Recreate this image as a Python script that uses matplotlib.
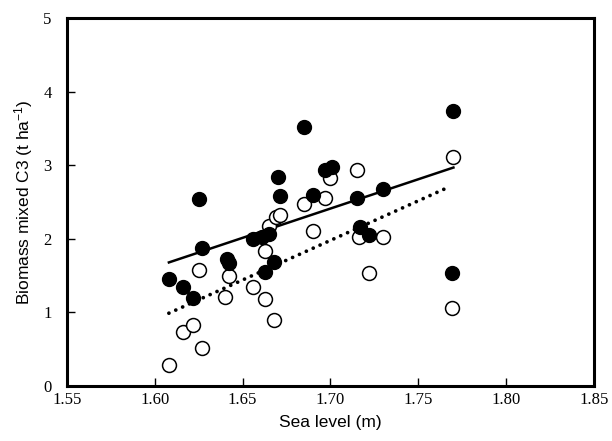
import numpy as np
import matplotlib
matplotlib.use("Agg")
from matplotlib import pyplot as plt

plt.rcParams['mathtext.fontset'] = 'custom'
plt.rcParams['mathtext.rm'] = 'Liberation Sans'
plt.rcParams['mathtext.it'] = 'Liberation Sans:italic'

# filled circles
sea_filled = [1.608, 1.616, 1.622, 1.625, 1.627, 1.641, 1.642, 1.656, 1.661,
              1.665, 1.663, 1.668, 1.670, 1.671, 1.685, 1.690, 1.697, 1.701,
              1.715, 1.717, 1.722, 1.730, 1.769, 1.770]
bio_filled = [1.46, 1.35, 1.20, 2.54, 1.87, 1.72, 1.67, 2.00, 2.03,
              2.07, 1.55, 1.68, 2.84, 2.58, 3.52, 2.60, 2.93, 2.98,
              2.55, 2.16, 2.05, 2.68, 1.54, 3.74]

# open circles
sea_open = [1.608, 1.616, 1.622, 1.627, 1.625, 1.640, 1.642, 1.656, 1.663,
            1.663, 1.665, 1.668, 1.669, 1.671, 1.685, 1.690, 1.697, 1.700,
            1.715, 1.716, 1.722, 1.730, 1.769, 1.770]
bio_open = [0.28, 0.74, 0.83, 0.52, 1.58, 1.21, 1.49, 1.34, 1.18,
            1.84, 2.17, 0.90, 2.30, 2.32, 2.48, 2.11, 2.56, 2.83,
            2.94, 2.02, 1.53, 2.02, 1.06, 3.11]

# fitted lines
fit_x_filled = [1.608, 1.770]
fit_y_filled = [1.68, 2.97]
fit_x_open = [1.608, 1.766]
fit_y_open = [0.99, 2.69]

fig = plt.figure(figsize=(6.12, 4.41), dpi=100)
ax = fig.add_axes([0.1095, 0.1247, 0.861, 0.834])

ax.plot(fit_x_filled, fit_y_filled, color='black', lw=1.8, zorder=2)
ax.plot(fit_x_open, fit_y_open, color='black', lw=2.7,
        linestyle=(0, (0.01, 2.0)), dash_capstyle='round', zorder=2)

ax.plot(sea_open, bio_open, 'o', ms=10, mfc='white', mec='black', mew=1.1,
        linestyle='none', zorder=3)
ax.plot(sea_filled, bio_filled, 'o', ms=10, mfc='black', mec='black', mew=1.0,
        linestyle='none', zorder=4)

ax.set_xlim(1.55, 1.85)
ax.set_ylim(0, 5)
ax.set_xticks(np.arange(1.55, 1.851, 0.05))
ax.set_xticklabels(['1.55', '1.60', '1.65', '1.70', '1.75', '1.80', '1.85'])
ax.set_yticks(range(6))

for s in ax.spines.values():
    s.set_linewidth(2.2)
ax.tick_params(axis='x', direction='in', length=6, width=1, pad=4)
ax.tick_params(axis='y', direction='in', length=6, width=1, pad=11)
for lab in ax.get_xticklabels() + ax.get_yticklabels():
    lab.set_family('Liberation Serif')
    lab.set_fontsize(12)

ax.set_xlabel('Sea level (m)', family='Liberation Sans', fontsize=12.5, labelpad=5)
ax.set_ylabel('Biomass mixed C3 (t ha$^{-1}$)', family='Liberation Sans',
              fontsize=12.5, labelpad=6)

fig.savefig('out.png', dpi=100)
